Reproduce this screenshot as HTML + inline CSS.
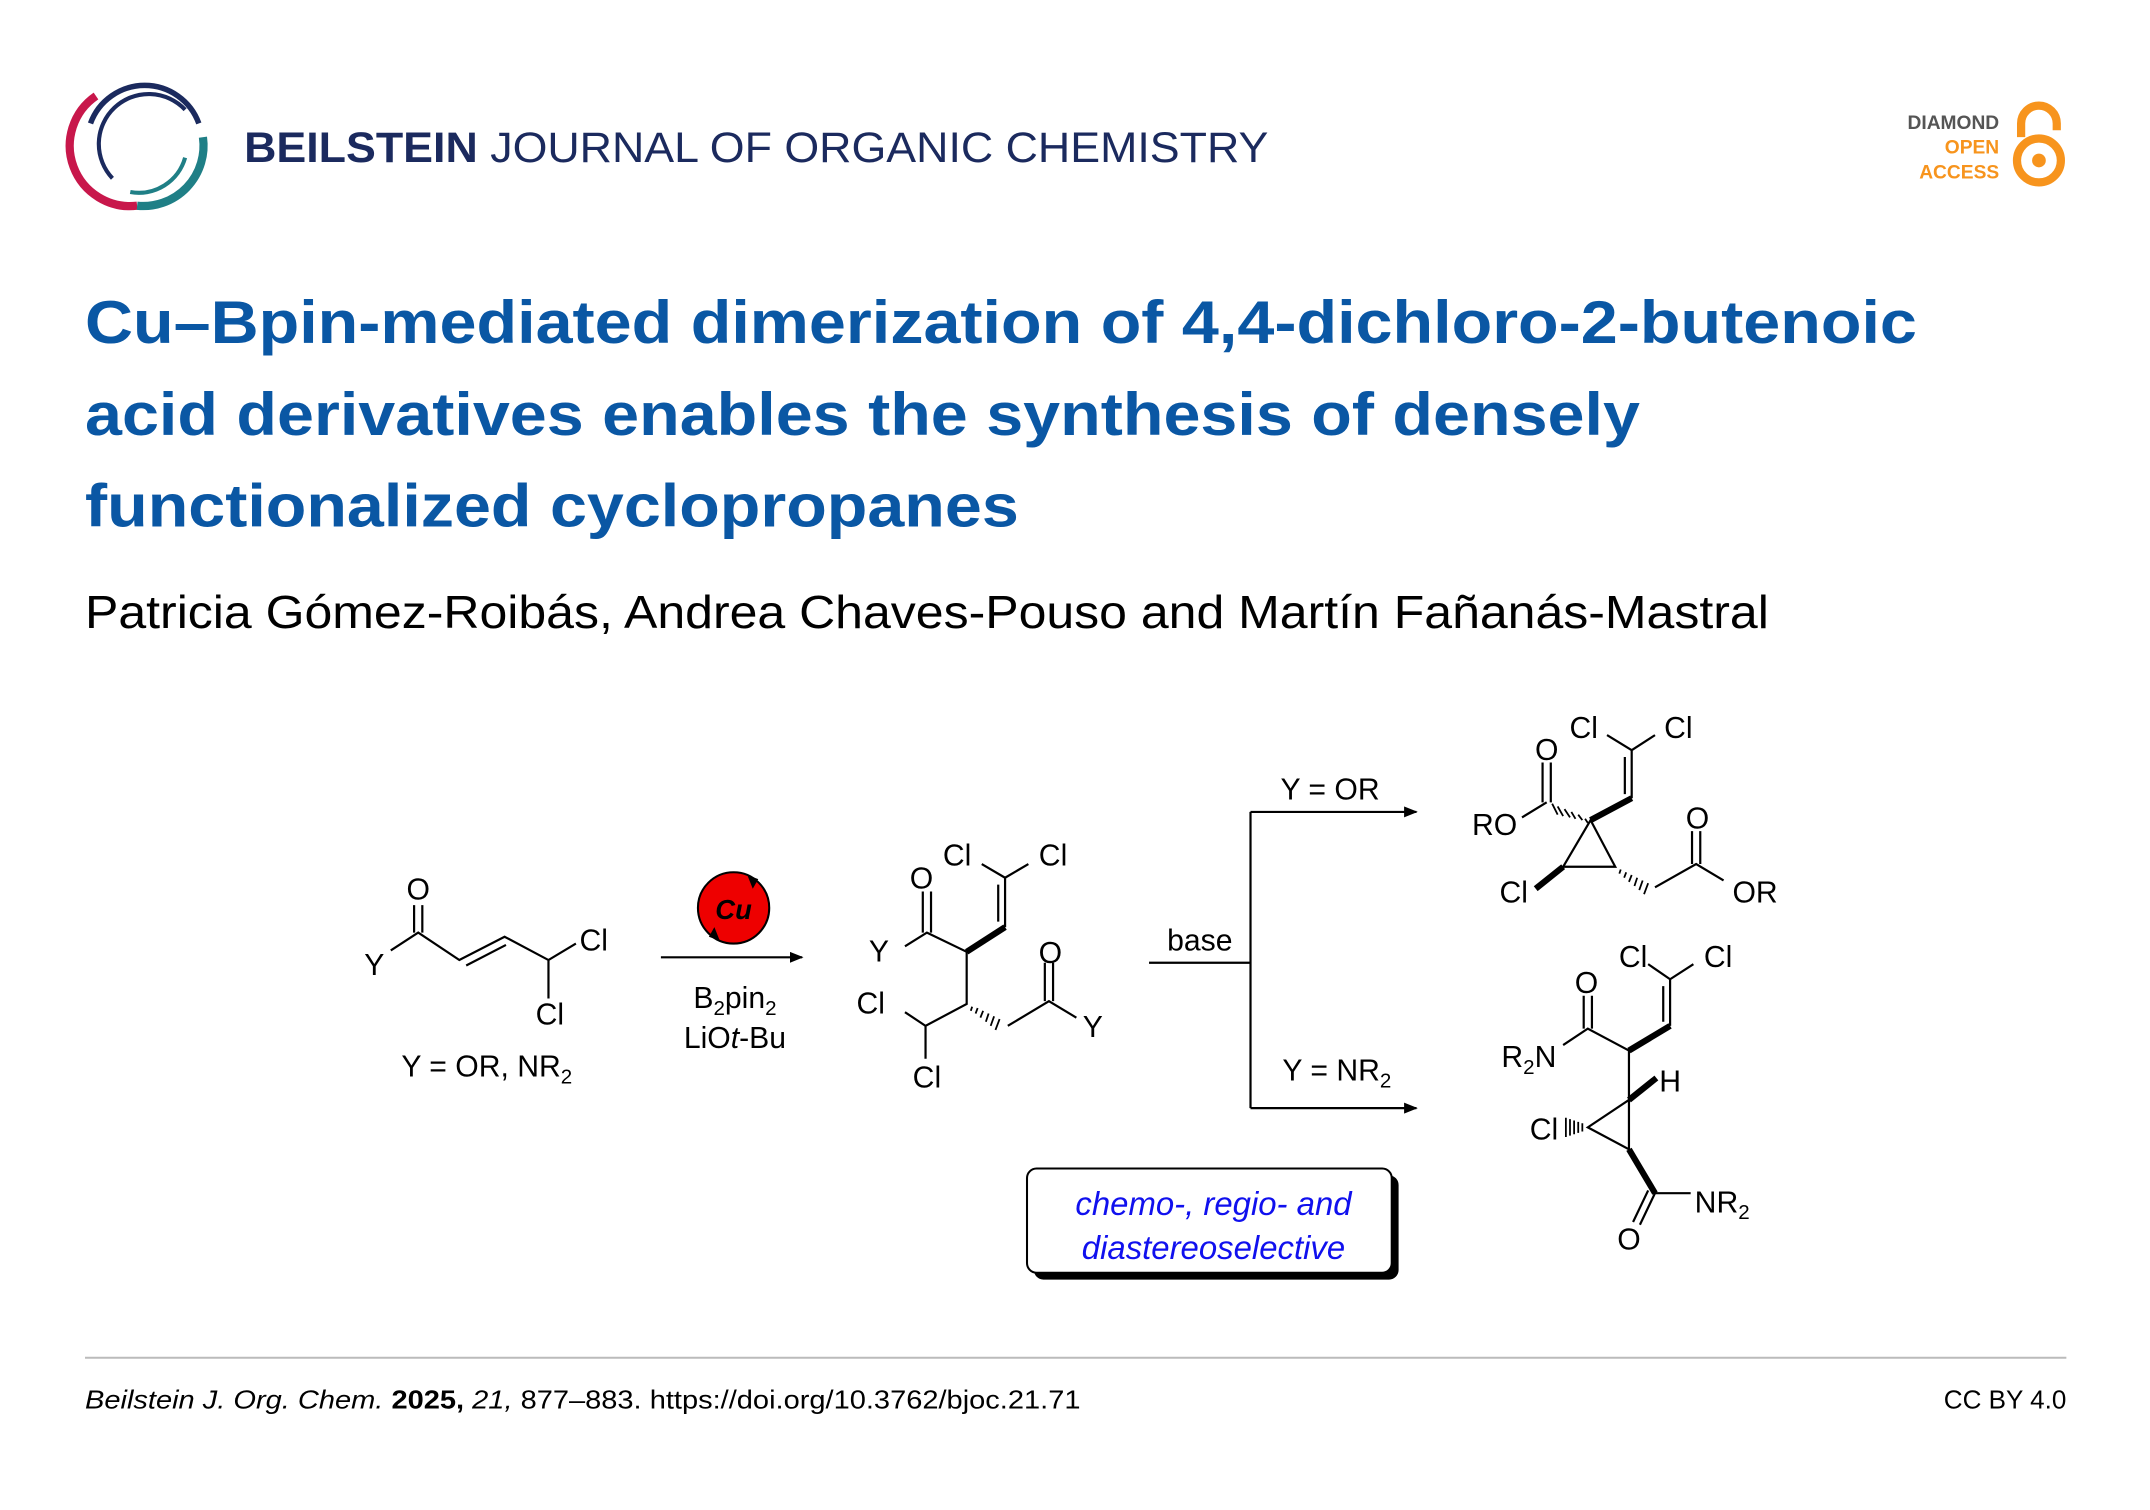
<!DOCTYPE html>
<html><head><meta charset="utf-8"><style>html,body{margin:0;padding:0;background:#fff}svg{display:block}</style></head><body>
<svg width="2150" height="1510" viewBox="0 0 1568 1101" preserveAspectRatio="none" xmlns="http://www.w3.org/2000/svg" font-family="Liberation Sans, sans-serif">
<defs><marker id="ah" markerWidth="10" markerHeight="8" refX="9" refY="4" orient="auto" markerUnits="userSpaceOnUse"><path d="M0,0 L10,4 L0,8 z" fill="#000"/></marker></defs>
<!-- logo -->
<path d="M66,90 A42,42 0 0 1 145,90" fill="none" stroke="#1b2a5e" stroke-width="4"/>
<path d="M70,70 A44,44 0 0 0 100,150" fill="none" stroke="#c8174b" stroke-width="6"/>
<path d="M100,150 A44,44 0 0 0 148,100" fill="none" stroke="#1f7f86" stroke-width="6"/>
<path d="M82,130 A33,33 0 0 1 135,80" fill="none" stroke="#1b2a5e" stroke-width="3"/>
<path d="M95,140 A35,35 0 0 0 135,115" fill="none" stroke="#1f7f86" stroke-width="3"/>
<text x="178" y="118" font-size="31" fill="#1b2a5e" textLength="747" lengthAdjust="spacingAndGlyphs"><tspan font-weight="bold">BEILSTEIN</tspan> JOURNAL OF ORGANIC CHEMISTRY</text>
<text x="1458" y="94" font-size="14" font-weight="bold" fill="#555" text-anchor="end">DIAMOND</text>
<text x="1458" y="112" font-size="14" font-weight="bold" fill="#f7941d" text-anchor="end">OPEN</text>
<text x="1458" y="130" font-size="14" font-weight="bold" fill="#f7941d" text-anchor="end">ACCESS</text>
<path d="M1474,100 V90 A13,13 0 0 1 1500,90 V95" fill="none" stroke="#f7941d" stroke-width="6"/>
<circle cx="1487" cy="117" r="16" fill="none" stroke="#f7941d" stroke-width="6"/>
<circle cx="1487" cy="117" r="5" fill="#f7941d"/>
<!-- title -->
<g font-size="44" font-weight="bold" fill="#0a57a4" lengthAdjust="spacingAndGlyphs">
<text x="62" y="250" textLength="1336" lengthAdjust="spacingAndGlyphs">Cu–Bpin-mediated dimerization of 4,4-dichloro-2-butenoic</text>
<text x="62" y="317" textLength="1134" lengthAdjust="spacingAndGlyphs">acid derivatives enables the synthesis of densely</text>
<text x="62" y="384" textLength="681" lengthAdjust="spacingAndGlyphs">functionalized cyclopropanes</text>
</g>
<text x="62" y="458" font-size="34" fill="#000" textLength="1228" lengthAdjust="spacingAndGlyphs">Patricia Gómez-Roibás, Andrea Chaves-Pouso and Martín Fañanás-Mastral</text>
<!-- scheme -->
<g stroke="#000" stroke-width="1.6" fill="none">
<path d="M285,693 L305,680 L335,700 L368,683 L400,700 L420,688 M400,700 V728"/>
<path d="M302,680 V660 M308,680 V660 M340,704 L369,689"/>
<line x1="482" y1="698" x2="585" y2="698" marker-end="url(#ah)"/>
<path d="M733,640 L716,630 M733,640 L750,630 M733,640 V676 M728,645 V672"/>
<path d="M705,694 L676,680 L660,690 M673,680 V650 M679,680 V650"/>
<path d="M705,694 V732 L675,748 L660,738 M675,748 V772"/>
<path d="M735,748 L765,730 L785,742 M762,730 V702 M768,730 V702"/>
<path d="M838,702 H912 M912,592 V808"/>
<line x1="912" y1="592" x2="1033" y2="592" marker-end="url(#ah)"/>
<line x1="912" y1="808" x2="1033" y2="808" marker-end="url(#ah)"/>
<path d="M1190,547 L1172,536 M1190,547 L1207,536 M1190,547 V582 M1185,552 V579"/>
<path d="M1128,585 L1110,596 M1125,585 V556 M1131,585 V556"/>
<path d="M1160,598 L1140,632 L1178,632 Z"/>
<path d="M1207,647 L1237,630 L1257,642 M1234,630 V606 M1240,630 V606"/>
<path d="M1218,714 L1202,703 M1218,714 L1235,703 M1218,714 V748 M1213,719 V745"/>
<path d="M1188,766 L1158,750 L1140,762 M1155,750 V726 M1161,750 V726"/>
<path d="M1188,766 V802 L1158,822 L1188,838 Z"/>
<path d="M1207,870 L1233,870 M1207,870 L1196,893 M1202,868 L1191,891"/>
</g>
<g stroke="#000" stroke-width="4.5" fill="none">
<path d="M733,676 L705,694"/>
<path d="M1190,582 L1160,598"/>
<path d="M1140,632 L1120,648"/>
<path d="M1218,748 L1188,766"/>
<path d="M1188,802 L1208,786"/>
<path d="M1188,838 L1207,870"/>
</g>
<g stroke="#000" stroke-width="1.3">
<path d="M709,734 l-1,3 M713,735 l-1.5,4 M717,737 l-2,5 M721,739 l-2,6 M725,741 l-2.5,7 M729,743 l-3,8"/>
<path d="M1156,597 l2,3 M1151,594 l3,4 M1146,592 l3,5 M1141,590 l4,6 M1136,588 l4,7 M1132,586 l4,8"/>
<path d="M1182,634 l-1,3 M1186,636 l-1.5,4 M1190,638 l-2,5 M1194,640 l-2,6 M1198,642 l-2.5,7 M1202,644 l-3,8"/>
<path d="M1154,819 v6 M1151,818 v8 M1148,817 v10 M1145,816 v12 M1142,815 v14"/>
</g>
<circle cx="535" cy="662" r="26" fill="#e00" stroke="#000" stroke-width="1.5"/>
<path d="M545,638 l8,3 l-4,7z M525,686 l-8,-3 l4,-7z" fill="#000"/>
<g font-size="22" fill="#000" text-anchor="middle">
<text x="535" y="670" font-weight="bold" font-style="italic" font-size="20">Cu</text>
<text x="305" y="656">O</text><text x="273" y="711">Y</text><text x="433" y="693">Cl</text><text x="401" y="747">Cl</text>
<text x="355" y="785">Y = OR, NR<tspan font-size="15" dy="5">2</tspan></text>
<text x="536" y="735">B<tspan font-size="15" dy="5">2</tspan><tspan dy="-5">pin</tspan><tspan font-size="15" dy="5">2</tspan></text>
<text x="536" y="764">LiO<tspan font-style="italic">t</tspan>-Bu</text>
<text x="698" y="631">Cl</text><text x="768" y="631">Cl</text><text x="672" y="648">O</text><text x="641" y="701">Y</text>
<text x="635" y="739">Cl</text><text x="676" y="793">Cl</text><text x="766" y="702">O</text><text x="797" y="756">Y</text>
<text x="875" y="693">base</text><text x="970" y="583">Y = OR</text>
<text x="975" y="788">Y = NR<tspan font-size="15" dy="5">2</tspan></text>
<text x="1155" y="538">Cl</text><text x="1224" y="538">Cl</text><text x="1128" y="554">O</text><text x="1090" y="609">RO</text>
<text x="1104" y="658">Cl</text><text x="1238" y="604">O</text><text x="1280" y="658">OR</text>
<text x="1191" y="705">Cl</text><text x="1253" y="705">Cl</text><text x="1157" y="724">O</text>
<text x="1115" y="778">R<tspan font-size="15" dy="5">2</tspan><tspan dy="-5">N</tspan></text>
<text x="1218" y="796">H</text><text x="1126" y="831">Cl</text>
<text x="1256" y="884">NR<tspan font-size="15" dy="5">2</tspan></text><text x="1188" y="911">O</text>
</g>
<rect x="754" y="857" width="266" height="76" rx="7" fill="#000"/>
<rect x="749" y="852" width="266" height="76" rx="7" fill="#fff" stroke="#000" stroke-width="1.5"/>
<g font-size="24" font-style="italic" fill="#1010ee" text-anchor="middle">
<text x="885" y="886">chemo-, regio- and</text><text x="885" y="918">diastereoselective</text>
</g>
<line x1="62" y1="990" x2="1507" y2="990" stroke="#bbb" stroke-width="1.5"/>
<text x="62" y="1027" font-size="19" fill="#000" textLength="726" lengthAdjust="spacingAndGlyphs"><tspan font-style="italic">Beilstein J. Org. Chem.</tspan> <tspan font-weight="bold">2025,</tspan> <tspan font-style="italic">21,</tspan> 877–883. https://doi.org/10.3762/bjoc.21.71</text>
<text x="1507" y="1027" font-size="19" fill="#000" text-anchor="end">CC BY 4.0</text>
</svg>
</body></html>
